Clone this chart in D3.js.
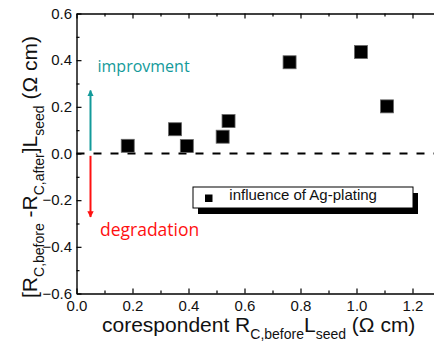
<!DOCTYPE html>
<html>
<head>
<meta charset="utf-8">
<script src="https://cdn.jsdelivr.net/npm/d3@7"></script>
<style>
  body { margin: 0; background: #fff; }
  svg text { font-family: "Liberation Sans", Arial, sans-serif; }
</style>
</head>
<body>
<div id="chart"></div>
<script>
const corrBefore = [0.183, 0.352, 0.394, 0.522, 0.543, 0.761, 1.016, 1.109];
const improvement = [0.033, 0.104, 0.032, 0.072, 0.139, 0.391, 0.435, 0.202];
const xTicks = [0.0, 0.2, 0.4, 0.6, 0.8, 1.0, 1.2];
const yTicks = [-0.6, -0.4, -0.2, 0.0, 0.2, 0.4, 0.6];
const legendLabel = 'influence of Ag-plating';

const width = 434, height = 345;

const x = d3.scaleLinear().domain([0, 1.3]).range([76.5, 440.5]);
const y = d3.scaleLinear().domain([-0.6, 0.6]).range([293.5, 13.5]);

const svg = d3.select('#chart').append('svg')
  .attr('width', width)
  .attr('height', height);

// minor ticks
const xMinor = d3.range(0.1, 1.3, 0.2);
const yMinor = d3.range(-0.5, 0.6, 0.2);

function styleAxis(g) {
  g.select('.domain').attr('stroke', '#000').attr('stroke-width', 1.4);
  g.selectAll('.tick line').attr('stroke', '#000').attr('stroke-width', 1.2);
  g.selectAll('.tick text').attr('fill', '#111').attr('font-size', 15)
    .attr('font-family', '"Liberation Sans", Arial, sans-serif');
}

// bottom
svg.append('g').attr('transform', 'translate(0,' + y(-0.6) + ')')
  .call(d3.axisBottom(x).tickValues(xTicks).tickFormat(d3.format('.1f'))
    .tickSizeInner(-5).tickSizeOuter(0).tickPadding(7))
  .call(styleAxis);
svg.append('g').attr('transform', 'translate(0,' + y(-0.6) + ')')
  .call(d3.axisBottom(x).tickValues(xMinor).tickFormat('').tickSizeInner(-3).tickSizeOuter(0))
  .call(g => g.select('.domain').remove())
  .call(styleAxis);

// top
svg.append('g').attr('transform', 'translate(0,' + y(0.6) + ')')
  .call(d3.axisTop(x).tickValues(xTicks).tickFormat('').tickSizeInner(-5).tickSizeOuter(0))
  .call(styleAxis);
svg.append('g').attr('transform', 'translate(0,' + y(0.6) + ')')
  .call(d3.axisTop(x).tickValues(xMinor).tickFormat('').tickSizeInner(-3).tickSizeOuter(0))
  .call(g => g.select('.domain').remove())
  .call(styleAxis);

// left
svg.append('g').attr('transform', 'translate(' + x(0) + ',0)')
  .call(d3.axisLeft(y).tickValues(yTicks).tickFormat(d3.format('.1f'))
    .tickSizeInner(-5).tickSizeOuter(0).tickPadding(4.5))
  .call(styleAxis);
svg.append('g').attr('transform', 'translate(' + x(0) + ',0)')
  .call(d3.axisLeft(y).tickValues(yMinor).tickFormat('').tickSizeInner(-3).tickSizeOuter(0))
  .call(g => g.select('.domain').remove())
  .call(styleAxis);

// zero line
svg.append('line')
  .attr('x1', x(0)).attr('x2', x(1.3))
  .attr('y1', y(0)).attr('y2', y(0))
  .attr('stroke', '#000').attr('stroke-width', 2)
  .attr('stroke-dasharray', '8,9');

// arrows
const defs = svg.append('defs');
function marker(id, color) {
  defs.append('marker').attr('id', id)
    .attr('viewBox', '0 0 10 10').attr('refX', 9).attr('refY', 5)
    .attr('markerWidth', 3.2).attr('markerHeight', 3.2).attr('orient', 'auto')
    .append('path').attr('d', 'M0,0L10,5L0,10Z').attr('fill', color);
}
const teal = '#139a9a', red = '#ff1010';
marker('upHead', teal);
marker('downHead', red);

svg.append('line')
  .attr('x1', x(0.05)).attr('x2', x(0.05))
  .attr('y1', y(0.012)).attr('y2', y(0.27))
  .attr('stroke', teal).attr('stroke-width', 2)
  .attr('marker-end', 'url(#upHead)');
svg.append('line')
  .attr('x1', x(0.05)).attr('x2', x(0.05))
  .attr('y1', y(-0.01)).attr('y2', y(-0.272))
  .attr('stroke', red).attr('stroke-width', 2)
  .attr('marker-end', 'url(#downHead)');

svg.append('text').text('improvment')
  .attr('x', 97.5).attr('y', 71.5)
  .attr('fill', teal).attr('font-size', 16)
  .style('font-family', '"Open Sans", "Noto Sans", sans-serif');
svg.append('text').text('degradation')
  .attr('x', 100).attr('y', 235.5)
  .attr('fill', red).attr('font-size', 17.5)
  .style('font-family', '"Open Sans", "Noto Sans", sans-serif');

// points
const pts = corrBefore.map((d, i) => ({ x: d, y: improvement[i] }));
const s = 13;
svg.selectAll('.pt').data(pts).enter().append('rect')
  .attr('class', 'pt')
  .attr('x', d => x(d.x) - s / 2)
  .attr('y', d => y(d.y) - s / 2)
  .attr('width', s).attr('height', s)
  .attr('fill', '#000').attr('stroke', '#666').attr('stroke-width', 0.8);

// legend
const lg = svg.append('g').attr('transform', 'translate(193,187)');
lg.append('rect').attr('x', 5).attr('y', 6).attr('width', 220).attr('height', 21).attr('fill', '#000');
lg.append('rect').attr('width', 220).attr('height', 21)
  .attr('fill', '#fff').attr('stroke', '#000').attr('stroke-width', 1);
lg.append('rect').attr('x', 12).attr('y', 7.5).attr('width', 7.5).attr('height', 7.5).attr('fill', '#000');
lg.append('text').text(legendLabel).attr('x', 36.3).attr('y', 12.8).attr('font-size', 15).attr('fill', '#111');

// axis titles
const xt = svg.append('text').attr('x', 102).attr('y', 332)
  .attr('font-size', 21).attr('fill', '#111');
xt.append('tspan').text('corespondent R');
xt.append('tspan').text('C,before').attr('font-size', 14).attr('dy', 7);
xt.append('tspan').text('L').attr('dy', -7);
xt.append('tspan').text('seed').attr('font-size', 14).attr('dy', 7);
xt.append('tspan').text(' (\u03A9 cm)').attr('dy', -7);

const yt = svg.append('text')
  .attr('transform', 'translate(37,167) rotate(-90)')
  .attr('text-anchor', 'middle')
  .attr('font-size', 21).attr('fill', '#111');
yt.append('tspan').text('[R');
yt.append('tspan').text('C,before').attr('font-size', 14).attr('dy', 7);
yt.append('tspan').text(' -R').attr('dy', -7);
yt.append('tspan').text('C,after').attr('font-size', 14).attr('dy', 7);
yt.append('tspan').text(']L').attr('dy', -7);
yt.append('tspan').text('seed').attr('font-size', 14).attr('dy', 7);
yt.append('tspan').text(' (\u03A9 cm)').attr('dy', -7);
</script>
</body>
</html>
